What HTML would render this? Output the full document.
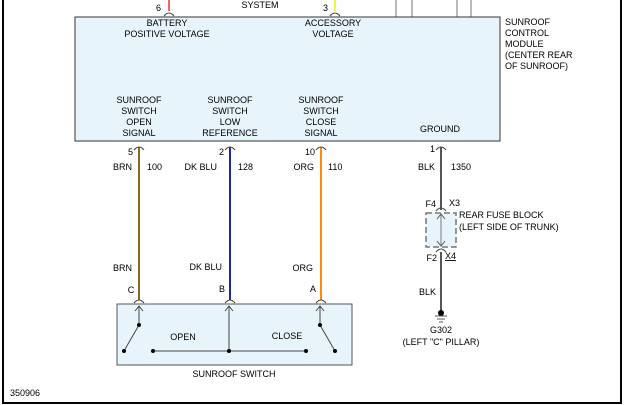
<!DOCTYPE html>
<html><head><meta charset="utf-8"><style>
html,body{margin:0;padding:0;background:#fff;}
svg{display:block;}
text{font-family:"Liberation Sans",sans-serif;font-size:9px;fill:#000;}
</style></head><body>
<svg width="624" height="405" viewBox="0 0 624 405" xmlns="http://www.w3.org/2000/svg">
<rect width="624" height="405" fill="#fff"/>
<path d="M3 0 V403 H621 V0" fill="none" stroke="#000" stroke-width="2"/>
<line x1="169" y1="0" x2="169" y2="11" stroke="#e33" stroke-width="1.5"/>
<line x1="335" y1="0" x2="335" y2="11" stroke="#ee0" stroke-width="1.5"/>
<g stroke="#777" stroke-width="1"><line x1="396" y1="0" x2="396" y2="17"/><line x1="412" y1="0" x2="412" y2="17"/><line x1="457" y1="0" x2="457" y2="17"/><line x1="471" y1="0" x2="471" y2="17"/></g>
<g fill="none" stroke="#444" stroke-width="1"><path d="M164 16 Q169 10 174 16"/><path d="M330 16 Q335 10 340 16"/></g>
<text x="161" y="11" text-anchor="end">6</text>
<text x="260" y="8" text-anchor="middle">SYSTEM</text>
<text x="328" y="11" text-anchor="end">3</text>
<rect x="75" y="17" width="425" height="124" fill="#e8f4fc" stroke="#333" stroke-width="1"/>
<g text-anchor="middle">
<text x="167" y="26">BATTERY</text><text x="167" y="37">POSITIVE VOLTAGE</text>
<text x="333" y="26">ACCESSORY</text><text x="333" y="37">VOLTAGE</text>
<text x="139" y="103">SUNROOF</text><text x="139" y="114">SWITCH</text><text x="139" y="125">OPEN</text><text x="139" y="136">SIGNAL</text>
<text x="230" y="103">SUNROOF</text><text x="230" y="114">SWITCH</text><text x="230" y="125">LOW</text><text x="230" y="136">REFERENCE</text>
<text x="321" y="103">SUNROOF</text><text x="321" y="114">SWITCH</text><text x="321" y="125">CLOSE</text><text x="321" y="136">SIGNAL</text>
<text x="440" y="132">GROUND</text>
</g>
<text x="505" y="25">SUNROOF</text><text x="505" y="36">CONTROL</text><text x="505" y="47">MODULE</text><text x="505" y="58">(CENTER REAR</text><text x="505" y="69">OF SUNROOF)</text>
<line x1="139" y1="147" x2="139" y2="300" stroke="#8a6a1a" stroke-width="2"/>
<line x1="230" y1="147" x2="230" y2="300" stroke="#1a2a9a" stroke-width="2"/>
<line x1="321" y1="147" x2="321" y2="300" stroke="#ff8a10" stroke-width="2"/>
<line x1="441" y1="147" x2="441" y2="210" stroke="#555" stroke-width="2"/>
<line x1="441" y1="252" x2="441" y2="312" stroke="#555" stroke-width="2"/>
<g fill="none" stroke="#444" stroke-width="1">
<path d="M134 150 Q139 144 144 150"/><path d="M225 150 Q230 144 235 150"/><path d="M316 150 Q321 144 326 150"/><path d="M436 150 Q441 144 446 150"/>
<path d="M134 303 Q139 297 144 303"/><path d="M225 303 Q230 297 235 303"/><path d="M316 303 Q321 297 326 303"/>
<path d="M436 211 Q441 205 446 211"/><path d="M436 252 Q441 246 446 252"/>
</g>
<text x="133" y="155" text-anchor="end">5</text><text x="224" y="155" text-anchor="end">2</text><text x="315" y="155" text-anchor="end">10</text><text x="435" y="152" text-anchor="end">1</text>
<text x="132" y="170" text-anchor="end">BRN</text><text x="147" y="170">100</text>
<text x="217" y="170" text-anchor="end">DK BLU</text><text x="238" y="170">128</text>
<text x="314" y="170" text-anchor="end">ORG</text><text x="328" y="170">110</text>
<text x="435" y="170" text-anchor="end">BLK</text><text x="451" y="170">1350</text>
<rect x="426" y="213" width="30" height="34" fill="#e8f4fc" stroke="#777" stroke-width="1.5" stroke-dasharray="6,3"/>
<line x1="441" y1="215" x2="441" y2="245" stroke="#777" stroke-width="1"/>
<path d="M437 219 L441 214 L445 219 M437 241 L441 246 L445 241" fill="none" stroke="#555"/>
<text x="436" y="207" text-anchor="end">F4</text><text x="449" y="206">X3</text>
<text x="459" y="218">REAR FUSE BLOCK</text><text x="459" y="230">(LEFT SIDE OF TRUNK)</text>
<text x="437" y="261" text-anchor="end">F2</text><text x="445" y="259" text-decoration="underline">X4</text>
<text x="436" y="295" text-anchor="end">BLK</text>
<circle cx="441" cy="313" r="3" fill="#000"/>
<g stroke="#555"><line x1="435" y1="316" x2="447" y2="316"/><line x1="437" y1="319" x2="445" y2="319"/><line x1="439" y1="322" x2="443" y2="322"/></g>
<text x="441" y="333" text-anchor="middle">G302</text>
<text x="441" y="345" text-anchor="middle">(LEFT "C" PILLAR)</text>
<text x="131" y="293" text-anchor="middle">C</text><text x="222" y="292" text-anchor="middle">B</text><text x="313" y="292" text-anchor="middle">A</text>
<text x="132" y="271" text-anchor="end">BRN</text><text x="222" y="270" text-anchor="end">DK BLU</text><text x="313" y="271" text-anchor="end">ORG</text>
<rect x="117" y="304" width="235" height="61" fill="#e8f4fc" stroke="#555" stroke-width="1"/>
<g stroke="#444" stroke-width="1" fill="none">
<line x1="139" y1="306" x2="139" y2="325"/><line x1="139" y1="325" x2="124" y2="351"/>
<line x1="229" y1="306" x2="229" y2="351"/><line x1="153" y1="351" x2="306" y2="351"/>
<line x1="320" y1="306" x2="320" y2="325"/><line x1="320" y1="325" x2="335" y2="351"/>
<path d="M135 311 L139 306 L143 311 M225 311 L229 306 L233 311 M316 311 L320 306 L324 311"/>
</g>
<g fill="#000"><circle cx="139" cy="325" r="2"/><circle cx="124" cy="351" r="2"/><circle cx="153" cy="351" r="2"/><circle cx="229" cy="351" r="2"/><circle cx="306" cy="351" r="2"/><circle cx="320" cy="325" r="2"/><circle cx="335" cy="351" r="2"/></g>
<text x="183" y="340" text-anchor="middle">OPEN</text><text x="287" y="339" text-anchor="middle">CLOSE</text>
<text x="234" y="377" text-anchor="middle">SUNROOF SWITCH</text>
<text x="10" y="396">350906</text>
</svg>
</body></html>
